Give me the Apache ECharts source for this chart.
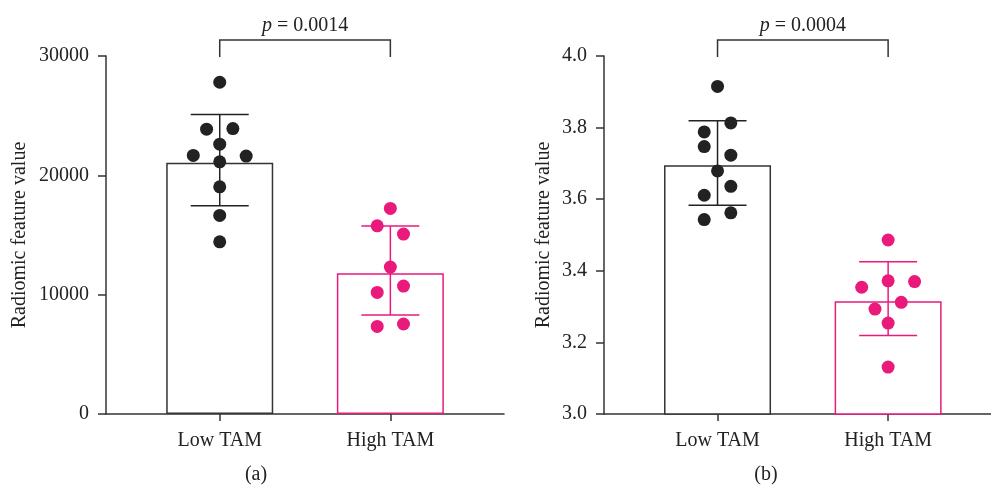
<!DOCTYPE html>
<html>
<head>
<meta charset="utf-8">
<script src="https://cdn.jsdelivr.net/npm/echarts@6/dist/echarts.min.js"></script>
<style>
  html, body { margin: 0; padding: 0; background: #fff; }
  #chart { width: 991px; height: 492px; }
</style>
</head>
<body>
<div id="chart"></div>
<script>
// ---- data ----
const groups = ['Low TAM', 'High TAM'];
const pValues = ['0.0014', '0.0004'];

// panel (a)
const meanA = [21050, 11800];
const upperA = [25100, 15750];
const lowerA = [17450, 8300];
const lowValuesA = [27800, 23870, 23920, 22610, 21670, 21610, 21130, 19040, 16640, 14430];
const lowJitterA = [0, -0.077, 0.077, 0, -0.155, 0.155, 0, 0, 0, 0];
const highValuesA = [17230, 15770, 15080, 12310, 10190, 10720, 7340, 7540];
const highJitterA = [0, -0.077, 0.077, 0, -0.077, 0.077, -0.077, 0.077];
const yTicksA = [0, 30000, 10000];

// panel (b)
const meanB = [3.695, 3.315];
const upperB = [3.819, 3.425];
const lowerB = [3.583, 3.219];
const lowValuesB = [3.915, 3.813, 3.788, 3.747, 3.723, 3.679, 3.636, 3.611, 3.562, 3.543];
const lowJitterB = [0, 0.078, -0.078, -0.078, 0.078, 0, 0.078, -0.078, 0.078, -0.078];
const highValuesB = [3.486, 3.354, 3.372, 3.370, 3.293, 3.312, 3.254, 3.131];
const highJitterB = [0, -0.155, 0, 0.155, -0.077, 0.077, 0, 0];
const yTicksB = [3.0, 4.0, 0.2];

// ---- style ----
const FONT = 'Liberation Serif';
const INK = '#222';
const AXIS = '#333';
const PINK = '#ea1a7c';
const colors = [INK, PINK];

const chart = echarts.init(document.getElementById('chart'));

function xAxisFor(gridIndex, min, max) {
  return {
    type: 'value', gridIndex, min, max,
    splitLine: { show: false },
    axisLine: { lineStyle: { color: AXIS, width: 1.5 } },
    axisTick: { customValues: [1, 2], length: 7, lineStyle: { color: AXIS, width: 1.5 } },
    axisLabel: {
      customValues: [1, 2], margin: 17,
      formatter: v => groups[Math.round(v) - 1],
      fontFamily: FONT, fontSize: 20, color: INK
    }
  };
}

function yAxisFor(gridIndex, ticks, nameGap, fmt) {
  return {
    type: 'value', gridIndex, min: ticks[0], max: ticks[1], interval: ticks[2],
    name: 'Radiomic feature value', nameLocation: 'middle', nameRotate: 90, nameGap,
    nameTextStyle: { fontFamily: FONT, fontSize: 20, color: INK },
    splitLine: { show: false },
    axisLine: { lineStyle: { color: AXIS, width: 1.5 } },
    axisTick: { length: 8, lineStyle: { color: AXIS, width: 1.5 } },
    axisLabel: { margin: 17, formatter: fmt, fontFamily: FONT, fontSize: 20, color: INK }
  };
}

function barSeries(idx, means) {
  return {
    type: 'bar', xAxisIndex: idx, yAxisIndex: idx, barWidth: 107, z: 1,
    data: means.map((m, i) => ({
      value: [i + 1, m],
      itemStyle: { color: '#fff', borderColor: i === 0 ? AXIS : PINK, borderWidth: 1.5 }
    })),
    silent: true
  };
}

function errorSeries(idx, lower, upper) {
  return {
    type: 'custom', xAxisIndex: idx, yAxisIndex: idx, z: 2, silent: true,
    data: lower.map((lo, i) => [i + 1, lo, upper[i], i]),
    renderItem: (params, api) => {
      const x = api.value(0);
      const lo = api.coord([x, api.value(1)]);
      const hi = api.coord([x, api.value(2)]);
      const style = { stroke: colors[api.value(3)], lineWidth: 1.5 };
      const hw = 29;
      return {
        type: 'group', children: [
          { type: 'line', shape: { x1: hi[0], y1: hi[1], x2: lo[0], y2: lo[1] }, style },
          { type: 'line', shape: { x1: hi[0] - hw, y1: hi[1], x2: hi[0] + hw, y2: hi[1] }, style },
          { type: 'line', shape: { x1: lo[0] - hw, y1: lo[1], x2: lo[0] + hw, y2: lo[1] }, style }
        ]
      };
    }
  };
}

function dotSeries(idx, values, jitter, g) {
  return {
    type: 'scatter', xAxisIndex: idx, yAxisIndex: idx, z: 3, silent: true,
    symbolSize: 13,
    itemStyle: { color: colors[g], opacity: 1 },
    data: values.map((v, i) => [g + 1 + jitter[i], v])
  };
}

function bracketSeries(idx, yMax, p) {
  return {
    type: 'custom', xAxisIndex: idx, yAxisIndex: idx, z: 4, silent: true, clip: false,
    data: [[1, 2, yMax]],
    renderItem: (params, api) => {
      const a = api.coord([api.value(0), api.value(2)]);
      const b = api.coord([api.value(1), api.value(2)]);
      const top = a[1] - 16;
      return {
        type: 'group', children: [
          {
            type: 'polyline',
            shape: { points: [[a[0], a[1] + 1], [a[0], top], [b[0], top], [b[0], b[1] + 1]] },
            style: { stroke: AXIS, lineWidth: 1.5, fill: null }
          },
          {
            type: 'text', x: (a[0] + b[0]) / 2, y: top - 14,
            style: {
              text: '{i|p} = ' + p,
              align: 'center', verticalAlign: 'middle',
              fontFamily: FONT, fontSize: 20, fill: INK,
              rich: { i: { fontStyle: 'italic', fontFamily: FONT, fontSize: 20, fill: INK } }
            }
          }
        ]
      };
    }
  };
}

chart.setOption({
  backgroundColor: '#fff',
  animation: false,
  grid: [
    { left: 106, top: 56, width: 398, height: 358, outerBoundsMode: 'none' },
    { left: 604, top: 56, width: 387, height: 358, outerBoundsMode: 'none' }
  ],
  xAxis: [xAxisFor(0, 0.3335, 2.666), xAxisFor(1, 0.3345, 2.603)],
  yAxis: [
    yAxisFor(0, yTicksA, 76, v => String(v)),
    yAxisFor(1, yTicksB, 50, v => v.toFixed(1))
  ],
  graphic: [
    { type: 'text', x: 256, y: 475, style: { text: '(a)', align: 'center', verticalAlign: 'middle', fontFamily: FONT, fontSize: 20, fill: INK } },
    { type: 'text', x: 766, y: 475, style: { text: '(b)', align: 'center', verticalAlign: 'middle', fontFamily: FONT, fontSize: 20, fill: INK } }
  ],
  series: [
    barSeries(0, meanA),
    errorSeries(0, lowerA, upperA),
    dotSeries(0, lowValuesA, lowJitterA, 0),
    dotSeries(0, highValuesA, highJitterA, 1),
    bracketSeries(0, yTicksA[1], pValues[0]),
    barSeries(1, meanB),
    errorSeries(1, lowerB, upperB),
    dotSeries(1, lowValuesB, lowJitterB, 0),
    dotSeries(1, highValuesB, highJitterB, 1),
    bracketSeries(1, yTicksB[1], pValues[1])
  ]
});
</script>
</body>
</html>
